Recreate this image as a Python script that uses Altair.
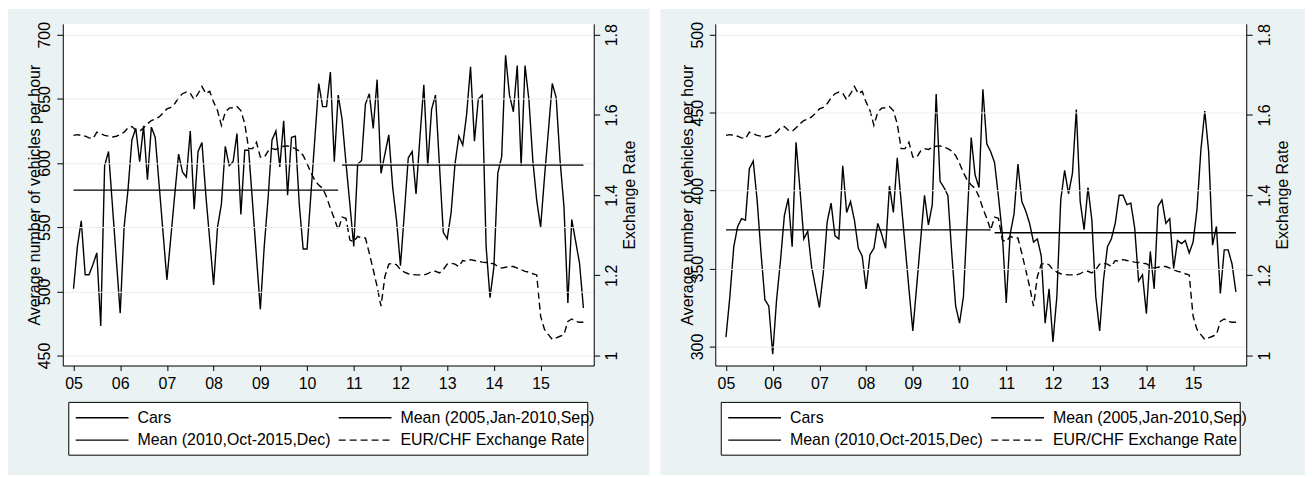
import json
import altair as alt
import pandas as pd

# ---------------- data ----------------
year_ticks = [0, 12, 24, 36, 48, 60, 72, 84, 96, 108, 120]
year_labels = ["05", "06", "07", "08", "09", "10", "11", "12", "13", "14", "15"]
split_month = 69  # Oct 2010 = first month of second period

cars_left = [
    502, 535, 555, 513, 513, 521, 530, 473, 598, 609,
    567, 525, 483, 550, 579, 618, 627, 601, 629, 587,
    628, 620, 583, 546, 509, 542, 575, 607, 593, 589,
    625, 564, 609, 616, 575, 540, 505, 550, 568, 613,
    598, 601, 623, 560, 610, 610, 569, 527, 486, 535,
    573, 618, 625, 597, 633, 575, 620, 621, 568, 533,
    533, 576, 619, 662, 644, 644, 671, 601, 653, 634,
    600, 568, 535, 599, 602, 646, 654, 627, 665, 592,
    607, 622, 581, 555, 520, 561, 604, 609, 576, 620,
    661, 598, 642, 653, 599, 546, 541, 561, 599, 621,
    614, 638, 675, 617, 650, 653, 535, 495, 519, 592,
    605, 684, 653, 640, 676, 598, 676, 649, 602, 571,
    550, 589, 625, 662, 651, 602, 566, 491, 556, 539,
    522, 487,
]

cars_right = [
    306, 332, 364, 377, 382, 381, 414, 419, 394, 360,
    330, 326, 295, 330, 355, 384, 395, 364, 431, 401,
    369, 374, 351, 338, 325, 347, 380, 392, 371, 369,
    416, 386, 393, 381, 363, 358, 337, 359, 363, 379,
    372, 363, 403, 386, 421, 393, 365, 337, 310, 339,
    368, 397, 378, 391, 462, 406, 402, 397, 360, 326,
    315, 332, 383, 434, 410, 402, 465, 430, 425, 418,
    396, 372, 328, 372, 385, 417, 393, 387, 379, 367,
    369, 358, 315, 337, 303, 332, 394, 413, 398, 411,
    452, 393, 375, 402, 381, 332, 310, 343, 364, 369,
    379, 397, 397, 391, 392, 376, 342, 346, 321, 361,
    337, 390, 394, 379, 382, 350, 368, 366, 368, 360,
    367, 388, 426, 451, 425, 365, 377, 334, 362, 362,
    353, 335,
]

eur_chf = [
    1.549, 1.551, 1.549, 1.547, 1.543, 1.541, 1.557, 1.553, 1.549, 1.547,
    1.545, 1.547, 1.551, 1.557, 1.568, 1.571, 1.562, 1.559, 1.568, 1.578,
    1.586, 1.590, 1.595, 1.605, 1.615, 1.619, 1.628, 1.643, 1.653, 1.657,
    1.654, 1.638, 1.653, 1.671, 1.653, 1.659, 1.632, 1.611, 1.574, 1.607,
    1.617, 1.618, 1.621, 1.611, 1.578, 1.516, 1.516, 1.532, 1.495, 1.494,
    1.510, 1.516, 1.514, 1.519, 1.522, 1.523, 1.520, 1.516, 1.510, 1.499,
    1.479, 1.456, 1.437, 1.425, 1.417, 1.396, 1.367, 1.342, 1.313, 1.345,
    1.342, 1.288, 1.284, 1.297, 1.293, 1.293, 1.255, 1.214, 1.172, 1.123,
    1.197, 1.228, 1.230, 1.226, 1.214, 1.208, 1.204, 1.202, 1.201, 1.201,
    1.201, 1.204, 1.210, 1.210, 1.206, 1.214, 1.228, 1.230, 1.228, 1.222,
    1.237, 1.235, 1.239, 1.237, 1.235, 1.233, 1.232, 1.230, 1.229, 1.222,
    1.218, 1.220, 1.222, 1.222, 1.218, 1.214, 1.210, 1.208, 1.204, 1.201,
    1.098, 1.065, 1.052, 1.040, 1.044, 1.048, 1.052, 1.085, 1.091, 1.085,
    1.083, 1.083,
]

means_left = [578.9, 598.5]
means_right = [374.8, 373.0]

left_ticks_a = [450, 500, 550, 600, 650, 700]
left_ticks_b = [300, 350, 400, 450, 500]
rate_ticks = [1.0, 1.2, 1.4, 1.6, 1.8]

# legend entries, row by row (two columns)
series_names = [
    "Cars",
    "Mean (2005,Jan-2010,Sep)",
    "Mean (2010,Oct-2015,Dec)",
    "EUR/CHF Exchange Rate",
]
series_dash = [[1, 0], [1, 0], [1, 0], [7, 4]]

# ---------------- style ----------------
FONT = "Liberation Sans"
BG = "#eaf2f3"
GRID = "#e4eef0"
W, H = 533, 343
label_expr = json.dumps(year_labels) + "[round(datum.value/12)]"


def build_frames(cars, means):
    rows = []
    for m, v in enumerate(cars):
        rows.append({"month": m, "value": v, "series": series_names[0]})
    for m in range(len(cars)):
        if m < split_month:
            rows.append({"month": m, "value": means[0], "series": series_names[1]})
        else:
            rows.append({"month": m, "value": means[1], "series": series_names[2]})
    left = pd.DataFrame(rows)
    right = pd.DataFrame({"month": list(range(len(eur_chf))), "rate": eur_chf,
                          "series": [series_names[3]] * len(eur_chf)})
    return left, right


def panel(cars, means, ydomain, yticks, bg_right):
    dl, dr = build_frames(cars, means)
    one = pd.DataFrame({"k": [0]})
    legend_df = pd.DataFrame({"label": series_names, "slot": list(range(len(series_names)))})

    dash = alt.StrokeDash("series:N", scale=alt.Scale(domain=series_names, range=series_dash),
                          legend=None)
    xenc = alt.X(
        "month:Q",
        scale=alt.Scale(domain=[-2.75, 133.65], nice=False, zero=False),
        axis=alt.Axis(values=year_ticks, labelExpr=label_expr, title=None, grid=False,
                      tickSize=5, labelPadding=5, labelFontSize=16, labelFont=FONT,
                      labelColor="black", domainColor="black", tickColor="black",
                      zindex=1, labelFlush=False, labelOverlap=False),
    )

    bg = alt.Chart(one).mark_rect(fill=BG).encode(
        x=alt.value(-55), x2=alt.value(bg_right), y=alt.value(-15), y2=alt.value(453))
    white = alt.Chart(one).mark_rect(fill="white").encode(
        x=alt.value(0), x2=alt.value(W), y=alt.value(0), y2=alt.value(H))

    left = alt.Chart(dl).mark_line(color="black", strokeWidth=1.4).encode(
        x=xenc,
        y=alt.Y("value:Q",
                scale=alt.Scale(domain=ydomain, nice=False, zero=False),
                axis=alt.Axis(values=yticks, orient="left",
                              title="Average number of vehicles per hour",
                              titleFont=FONT, titleFontSize=16, titleFontWeight="normal",
                              titleColor="black", titleAngle=270, titleX=-23, titleY=H / 2,
                              titleAlign="center", titleBaseline="alphabetic",
                              labelAngle=270, labelAlign="center", labelBaseline="bottom",
                              labelFontSize=16, labelFont=FONT, labelColor="black",
                              labelPadding=4, tickSize=6, tickColor="black",
                              domainColor="black", grid=True, gridColor=GRID,
                              zindex=1, labelFlush=False, labelOverlap=False)),
        strokeDash=dash,
    )
    right = alt.Chart(dr).mark_line(color="black", strokeWidth=1.4).encode(
        x=xenc,
        y=alt.Y("rate:Q",
                scale=alt.Scale(domain=[0.975, 1.8273], nice=False, zero=False),
                axis=alt.Axis(values=rate_ticks, orient="right", format=".1~f",
                              title="Exchange Rate",
                              titleFont=FONT, titleFontSize=16, titleFontWeight="normal",
                              titleColor="black", titleAngle=270, titleX=41, titleY=H / 2,
                              titleAlign="center", titleBaseline="alphabetic",
                              labelAngle=270, labelAlign="center", labelBaseline="top",
                              labelFontSize=16, labelFont=FONT, labelColor="black",
                              labelPadding=4, tickSize=6, tickColor="black",
                              domainColor="black", grid=False,
                              zindex=1, labelFlush=False, labelOverlap=False)),
        strokeDash=dash,
    )

    # ----- legend box (Stata style: 2 columns, boxed) -----
    box = alt.Chart(one).mark_rect(fill="white", stroke="black", strokeWidth=1).encode(
        x=alt.value(6), x2=alt.value(527), y=alt.value(380), y2=alt.value(433))
    leg_base = alt.Chart(legend_df).transform_calculate(
        sx="13 + (datum.slot % 2) * 264",
        ex="13 + (datum.slot % 2) * 264 + 53",
        lx="13 + (datum.slot % 2) * 264 + 62",
        ty="395.5 + floor(datum.slot / 2) * 22.4",
    )
    leg_sym = leg_base.mark_rule(color="black", strokeWidth=1.4).encode(
        x=alt.X("sx:Q", scale=None, axis=None),
        x2="ex:Q",
        y=alt.Y("ty:Q", scale=None, axis=None),
        strokeDash=alt.StrokeDash("label:N",
                                  scale=alt.Scale(domain=series_names, range=series_dash),
                                  legend=None),
    )
    leg_txt = leg_base.mark_text(align="left", baseline="middle", fontSize=16, font=FONT,
                                 color="black").encode(
        x=alt.X("lx:Q", scale=None, axis=None),
        y=alt.Y("ty:Q", scale=None, axis=None),
        text="label:N",
    )

    return alt.layer(bg, white, box, left, right, leg_sym, leg_txt).resolve_scale(
        y="independent").properties(width=W, height=H)


p1 = panel(cars_left, means_left, [442.2, 708.5], left_ticks_a, 589)
p2 = panel(cars_right, means_right, [287.8, 507.0], left_ticks_b, 592)

chart = (
    alt.hconcat(p1, p2, spacing=11)
    .resolve_scale(x="independent", y="independent", strokeDash="independent")
    .properties(padding=0, background="white")
    .configure_view(stroke=None)
)

chart.save("out.html", embed_options={"renderer": "svg", "actions": False})
